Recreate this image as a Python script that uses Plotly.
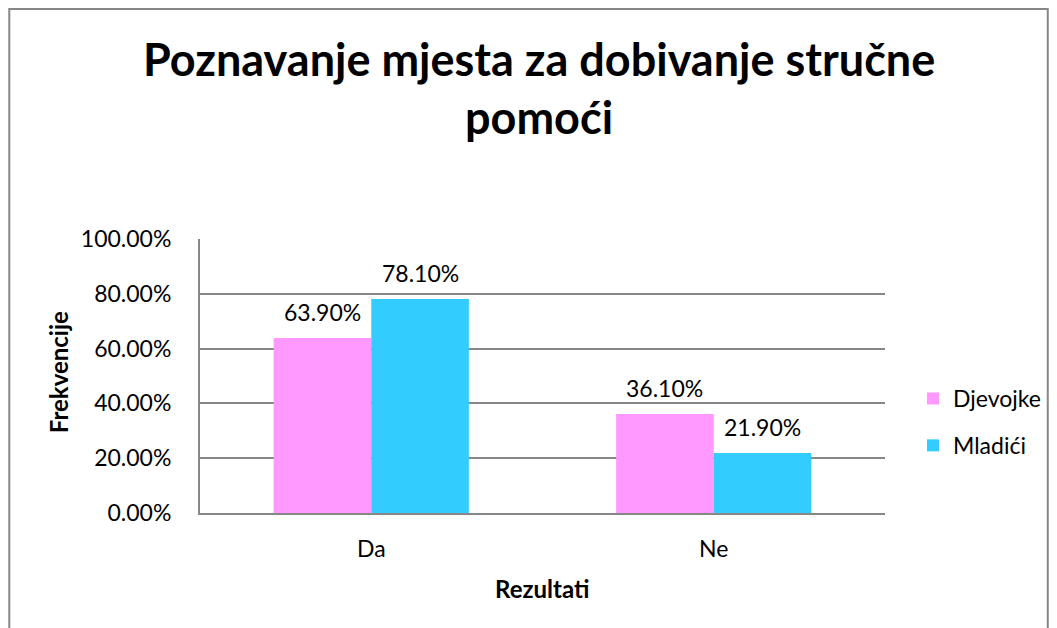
import plotly.graph_objects as go

categories = ["Da", "Ne"]
djevojke = [0.639, 0.361]
mladici = [0.781, 0.219]
series_names = ["Djevojke", "Mladići"]
colors = ["#FF99FF", "#33CCFF"]
title_lines = ["Poznavanje mjesta za dobivanje stručne", "pomoći"]
y_ticks = [0, 0.2, 0.4, 0.6, 0.8, 1.0]

FONT = "Lato, Carlito, Calibri, sans-serif"
OFF = 8  # page body margin
W, H = 1057 - OFF, 628 - OFF
L, R, T, B = 200 - OFF, 886 - OFF, 239 - OFF, 513 - OFF


def fx(xp):
    return (xp - OFF - L) / (R - L)


def fy(yp):
    return (B - (yp - OFF)) / (B - T)


fig = go.Figure()
for name, vals, col in zip(series_names, [djevojke, mladici], colors):
    fig.add_trace(go.Bar(x=categories, y=vals, name=name, marker_color=col,
                         marker_line_width=0, legendgroup=name))

ann = []
for vals, shift in zip([djevojke, mladici], [-49, 49]):
    for c, v in zip(categories, vals):
        ann.append(dict(x=c, y=v, xref="x", yref="y", text=f"{v:.2%}", showarrow=False,
                        xanchor="center", yanchor="middle",
                        xshift=shift, yshift=26, font=dict(size=23, color="#000", family=FONT)))
for line, yy in zip(title_lines, [59, 117]):
    ann.append(dict(x=fx(539), y=fy(yy), xref="paper", yref="paper", text=f"<b>{line}</b>",
                    xanchor="center", yanchor="middle",
                    showarrow=False, font=dict(size=45, color="#000", family=FONT)))
ann.append(dict(x=fx(58), y=fy(372), xref="paper", yref="paper", text="<b>Frekvencije</b>",
                xanchor="center", yanchor="middle",
                textangle=-90, showarrow=False, font=dict(size=24, color="#000", family=FONT)))
ann.append(dict(x=fx(542), y=fy(588), xref="paper", yref="paper", text="<b>Rezultati</b>",
                xanchor="center", yanchor="middle",
                showarrow=False, font=dict(size=24, color="#000", family=FONT)))

fig.update_layout(
    width=W, height=H,
    margin=dict(l=L, r=W - R, t=T, b=H - B, pad=0),
    paper_bgcolor="white", plot_bgcolor="white",
    barmode="group", bargap=0.43, bargroupgap=0,
    font=dict(family=FONT, size=23, color="#000"),
    showlegend=True,
    legend=dict(x=fx(913), y=fy(377), xref="paper", yref="paper", xanchor="left", yanchor="top",
                font=dict(size=23, family=FONT), tracegroupgap=14, itemwidth=30,
                bgcolor="rgba(0,0,0,0)"),
    annotations=ann,
    shapes=[dict(type="rect", xref="paper", yref="paper",
                 x0=fx(9), x1=fx(1049), y0=fy(9), y1=fy(680),
                 line=dict(color="#878787", width=2), fillcolor="rgba(0,0,0,0)", layer="below")],
)
fig.update_yaxes(range=[0, 1], tickvals=y_ticks, tickformat=".2%", showgrid=True, gridcolor="#878787",
                 gridwidth=1.5, showline=True, linecolor="#878787", linewidth=2, zeroline=False,
                 ticks="", ticklabelstandoff=22, tickfont=dict(size=23, family=FONT))
fig.update_xaxes(showline=True, linecolor="#878787", linewidth=2, ticks="", ticklabelstandoff=14,
                 tickfont=dict(size=23, family=FONT))

fig.write_html("out.html")
